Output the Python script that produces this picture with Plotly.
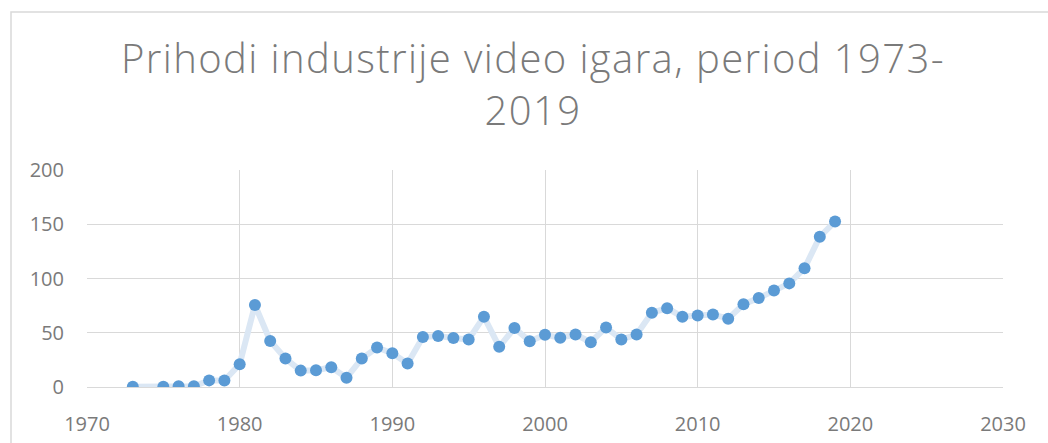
import plotly.graph_objects as go

years = [1973, 1975, 1976, 1977, 1978, 1979, 1980, 1981, 1982, 1983, 1984, 1985,
         1986, 1987, 1988, 1989, 1990, 1991, 1992, 1993, 1994, 1995, 1996, 1997,
         1998, 1999, 2000, 2001, 2002, 2003, 2004, 2005, 2006, 2007, 2008, 2009,
         2010, 2011, 2012, 2013, 2014, 2015, 2016, 2017, 2018, 2019]
revenue = [0.2, 0.3, 0.6, 0.7, 6.1, 6.0, 21.0, 75.6, 42.5, 26.2, 15.1, 15.4,
           18.2, 8.6, 26.2, 36.4, 31.1, 21.6, 46.0, 46.9, 45.2, 43.8, 64.8, 37.0,
           54.3, 42.2, 48.1, 45.4, 48.4, 41.3, 54.9, 43.8, 48.4, 68.5, 72.5, 64.8,
           66.0, 66.9, 63.0, 76.2, 82.0, 89.0, 95.5, 109.5, 138.5, 152.5]

x_ticks = [1970, 1980, 1990, 2000, 2010, 2020, 2030]
y_ticks = [0, 50, 100, 150, 200]
title_lines = ["Prihodi industrije video igara, period 1973-", "2019"]

grid = "#d9d9d9"
txt = "#7a7a7a"

W, H = 1048, 443
L, R, T, B = 87, 45, 170, 56
pw, ph = W - L - R, H - T - B

def px2x(px):
    return (px - L) / pw

def py2y(py):
    return (H - B - py) / ph

title_text = "<br>".join(
    '<span style="letter-spacing:1.4px">%s</span>' % s for s in title_lines)

fig = go.Figure()
fig.add_trace(go.Scatter(
    x=years, y=revenue, mode="lines+markers",
    line=dict(color="#dbe7f4", width=6),
    marker=dict(color="#5b9bd5", size=12, line=dict(width=0)),
    showlegend=False, hoverinfo="x+y",
))

fig.update_layout(
    width=W, height=H,
    margin=dict(l=L, r=R, t=T, b=B, pad=0, autoexpand=False),
    paper_bgcolor="white", plot_bgcolor="rgba(0,0,0,0)",
    font=dict(family="Open Sans", color=txt, size=20),
    title=dict(text=title_text, x=533 / W, xanchor="center", xref="container",
               y=1 - 73 / H, yanchor="top", yref="container",
               font=dict(family="Open Sans", size=40, color="#7a7a7a", weight=300)),
    xaxis=dict(range=[1970, 2030], tickvals=x_ticks, ticktext=[str(v) for v in x_ticks],
               showgrid=True, gridcolor=grid, gridwidth=1.3,
               showline=True, linecolor=grid, linewidth=1.3, mirror=False,
               zeroline=False, ticks="outside", ticklen=19, tickcolor="rgba(0,0,0,0)",
               tickfont=dict(size=20, color=txt), automargin=False),
    yaxis=dict(range=[0, 200], tickvals=y_ticks, ticktext=[str(v) for v in y_ticks],
               showgrid=True, gridcolor=grid, gridwidth=1.3,
               showline=False, zeroline=False,
               ticks="outside", ticklen=18, tickcolor="rgba(0,0,0,0)",
               tickfont=dict(size=20, color=txt), automargin=False),
    shapes=[dict(type="rect", xref="paper", yref="paper",
                 x0=px2x(11), x1=px2x(1070), y0=py2y(12), y1=py2y(470),
                 line=dict(color=grid, width=1.5), fillcolor="rgba(0,0,0,0)",
                 layer="below")],
)

fig.write_html("out.html",
               config={"displayModeBar": False},
               post_script="document.body.style.margin='0';"
                           "document.body.style.overflow='hidden';")
